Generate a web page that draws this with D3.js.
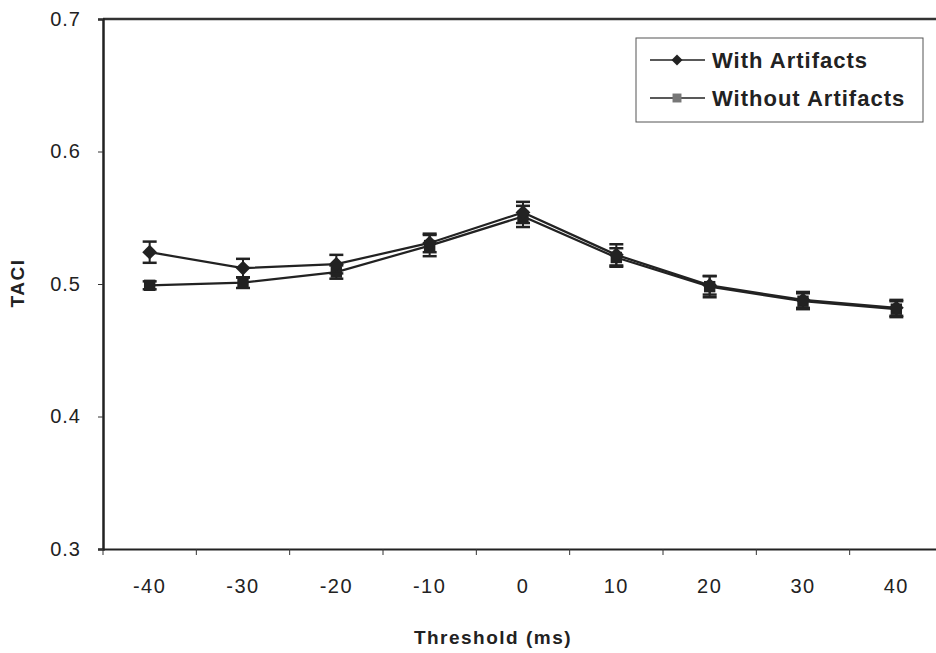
<!DOCTYPE html>
<html>
<head>
<meta charset="utf-8">
<script src="https://cdn.jsdelivr.net/npm/d3@7"></script>
<style>
body { margin: 0; background: #fff; }
text { font-family: Arial, "Liberation Sans", sans-serif; fill: #222; }
</style>
</head>
<body>
<div id="chart"></div>
<script>
var thresholds = [-40, -30, -20, -10, 0, 10, 20, 30, 40];
var withArt = [0.524, 0.512, 0.515, 0.531, 0.554, 0.522, 0.499, 0.488, 0.482];
var withErr = [0.008, 0.007, 0.007, 0.007, 0.008, 0.008, 0.007, 0.006, 0.006];
var withoutArt = [0.499, 0.501, 0.509, 0.529, 0.551, 0.520, 0.498, 0.487, 0.481];
var withoutErr = [0.003, 0.004, 0.005, 0.008, 0.008, 0.007, 0.008, 0.006, 0.006];
var yTicks = [0.3, 0.4, 0.5, 0.6, 0.7];

var width = 936, height = 653;
var mLeft = 103, mTop = 19, mRight = 943, mBottom = 549;

var svg = d3.select("#chart").append("svg")
  .attr("width", width)
  .attr("height", height);

var x = d3.scaleBand().domain(thresholds).range([mLeft, mRight]);
var y = d3.scaleLinear().domain([0.3, 0.7]).range([mBottom, mTop]);

// top border of plot area
svg.append("line").attr("x1", mLeft).attr("x2", mRight).attr("y1", mTop).attr("y2", mTop)
  .attr("stroke", "#333").attr("stroke-width", 2.5);

var xAxis = svg.append("g")
  .attr("transform", "translate(0," + mBottom + ")")
  .call(d3.axisBottom(x).tickSize(0).tickPadding(30));
xAxis.select(".domain").attr("stroke", "#222").attr("stroke-width", 2);
xAxis.selectAll("text").attr("font-size", 20).attr("letter-spacing", 1.5);

// tick marks at band boundaries
svg.selectAll(".xt").data(thresholds).enter().append("line")
  .attr("x1", function(d) { return x(d); }).attr("x2", function(d) { return x(d); })
  .attr("y1", mBottom).attr("y2", mBottom + 6)
  .attr("stroke", "#333").attr("stroke-width", 1);

var yAxis = svg.append("g")
  .attr("transform", "translate(" + mLeft + ",0)")
  .call(d3.axisLeft(y).tickValues(yTicks).tickFormat(d3.format(".1f")).tickSize(5).tickPadding(17));
yAxis.select(".domain").attr("stroke", "#222").attr("stroke-width", 2.5);
yAxis.selectAll("line").attr("stroke", "#333");
yAxis.selectAll("text").attr("font-size", 20).attr("letter-spacing", 1);

svg.append("text").attr("x", 493).attr("y", 644).attr("text-anchor", "middle")
  .attr("font-size", 19).attr("font-weight", "bold").attr("letter-spacing", 1.5)
  .text("Threshold (ms)");
svg.append("text").attr("transform", "translate(24,283) rotate(-90)")
  .attr("text-anchor", "middle").attr("font-size", 19).attr("font-weight", "bold")
  .attr("letter-spacing", 1.5).text("TACI");

var cx = function(i) { return x(thresholds[i]) + x.bandwidth() / 2; };

// diamond = square turned 45 degrees
function marker(shape, size) {
  return d3.symbol().type(d3.symbolSquare).size(size)();
}

function drawSeries(vals, errs, rot, size) {
  var line = d3.line().x(function(d, i) { return cx(i); }).y(function(d) { return y(d); });
  svg.append("path").datum(vals).attr("d", line)
    .attr("fill", "none").attr("stroke", "#222").attr("stroke-width", 2.2);
  var g = svg.append("g");
  vals.forEach(function(v, i) {
    var px = cx(i);
    g.append("line").attr("x1", px).attr("x2", px)
      .attr("y1", y(v + errs[i])).attr("y2", y(v - errs[i]))
      .attr("stroke", "#222").attr("stroke-width", 2);
    [v + errs[i], v - errs[i]].forEach(function(e) {
      g.append("line").attr("x1", px - 7).attr("x2", px + 7)
        .attr("y1", y(e)).attr("y2", y(e)).attr("stroke", "#222").attr("stroke-width", 2.5);
    });
    g.append("path")
      .attr("d", d3.symbol().type(d3.symbolSquare).size(size)())
      .attr("transform", "translate(" + px + "," + y(v) + ") rotate(" + rot + ")")
      .attr("fill", "#222");
  });
}

drawSeries(withoutArt, withoutErr, 0, 130);
drawSeries(withArt, withErr, 45, 110);

// legend
var lg = svg.append("g");
lg.append("rect").attr("x", 636).attr("y", 38).attr("width", 287).attr("height", 84)
  .attr("fill", "#fff").attr("stroke", "#555").attr("stroke-width", 1);
var items = [["With Artifacts", 45, "#222", 60, 60], ["Without Artifacts", 0, "#777", 98, 80]];
items.forEach(function(it) {
  lg.append("line").attr("x1", 650).attr("x2", 705).attr("y1", it[3]).attr("y2", it[3])
    .attr("stroke", "#222").attr("stroke-width", 1.5);
  lg.append("path").attr("d", d3.symbol().type(d3.symbolSquare).size(it[4])())
    .attr("transform", "translate(677," + it[3] + ") rotate(" + it[1] + ")").attr("fill", it[2]);
  lg.append("text").attr("x", 712).attr("y", it[3] + 8).attr("font-size", 22)
    .attr("font-weight", "bold").attr("letter-spacing", 1).text(it[0]);
});
</script>
</body>
</html>
